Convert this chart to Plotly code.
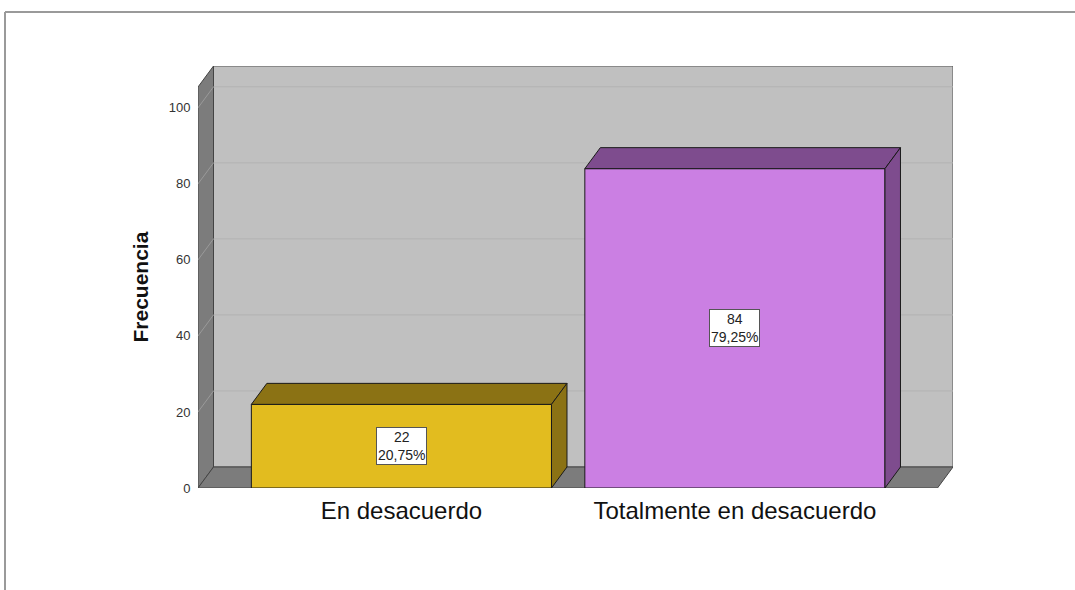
import plotly.graph_objects as go

# ---- data ----
categories = ["En desacuerdo", "Totalmente en desacuerdo"]
counts = [22, 84]
percents = ["20,75%", "79,25%"]
y_ticks = [0, 20, 40, 60, 80, 100]
y_title = "Frecuencia"

# ---- style ----
front_colors = ["#E2BC1F", "#CB7FE3"]
dark_colors = ["#8B7214", "#7E4C8E"]
W, H = 1075, 590
ML, MR, MT, MB = 198, 122, 66, 102
X_RANGE = [-0.61, 1.654]
Y_RANGE = [0, 111.0]
BAR_W = 0.9
DX = 15.5 / ((W - ML - MR) / (X_RANGE[1] - X_RANGE[0]))   # depth in x data units
DY = 21.0 / ((H - MT - MB) / (Y_RANGE[1] - Y_RANGE[0]))    # depth in y data units
WALL_TOP = Y_RANGE[1] - DY

xs = list(range(len(categories)))

fig = go.Figure()

shapes = []
xl, xr = X_RANGE
# back wall
shapes.append(dict(type="rect", xref="x", yref="y", x0=xl + DX, x1=xr, y0=DY, y1=Y_RANGE[1],
                   fillcolor="#C0C0C0", line=dict(color="#555555", width=1), layer="below"))
# left wall
shapes.append(dict(type="path", xref="x", yref="y",
                   path=f"M {xl},0 L {xl},{WALL_TOP} L {xl+DX},{Y_RANGE[1]} L {xl+DX},{DY} Z",
                   fillcolor="#7C7C7C", line=dict(color="#444444", width=1), layer="below"))
# floor
shapes.append(dict(type="path", xref="x", yref="y",
                   path=f"M {xl},0 L {xr-DX},0 L {xr},{DY} L {xl+DX},{DY} Z",
                   fillcolor="#7C7C7C", line=dict(color="#444444", width=1), layer="below"))
# gridlines on back wall and left wall
for t in y_ticks[1:]:
    shapes.append(dict(type="line", xref="x", yref="y", x0=xl + DX, x1=xr, y0=t + DY, y1=t + DY,
                       line=dict(color="#B2B2B2", width=1), layer="below"))
    shapes.append(dict(type="line", xref="x", yref="y", x0=xl, x1=xl + DX, y0=t, y1=t + DY,
                       line=dict(color="#9A9A9A", width=1), layer="below"))

# bars: 3D top and side faces
for x, v, dc in zip(xs, counts, dark_colors):
    x0, x1 = x - BAR_W / 2, x + BAR_W / 2
    shapes.append(dict(type="path", xref="x", yref="y",
                       path=f"M {x0},{v} L {x0+DX},{v+DY} L {x1+DX},{v+DY} L {x1},{v} Z",
                       fillcolor=dc, line=dict(color="#1A1A1A", width=1)))
    shapes.append(dict(type="path", xref="x", yref="y",
                       path=f"M {x1},0 L {x1+DX},{DY} L {x1+DX},{v+DY} L {x1},{v} Z",
                       fillcolor=dc, line=dict(color="#1A1A1A", width=1)))

# outer frame (top and left edges)
pw, ph = W - ML - MR, H - MT - MB
def px_to_paper_x(px):
    return (px - ML) / pw
def py_to_paper_y(py):
    return (H - MB - py) / ph
shapes.append(dict(type="line", xref="paper", yref="paper",
                   x0=px_to_paper_x(5), x1=px_to_paper_x(W + 5), y0=py_to_paper_y(12), y1=py_to_paper_y(12),
                   line=dict(color="#9A9A9A", width=2)))
shapes.append(dict(type="line", xref="paper", yref="paper",
                   x0=px_to_paper_x(5), x1=px_to_paper_x(5), y0=py_to_paper_y(12), y1=py_to_paper_y(H + 5),
                   line=dict(color="#9A9A9A", width=2)))

fig.add_trace(go.Bar(x=xs, y=counts, width=BAR_W,
                     marker=dict(color=front_colors, line=dict(color="#1A1A1A", width=1)),
                     hoverinfo="skip", showlegend=False))

annotations = []
for x, v, p in zip(xs, counts, percents):
    annotations.append(dict(x=x, y=v / 2, xref="x", yref="y", text=f"{v}<br>{p}", showarrow=False,
                            font=dict(family="Arial", size=14, color="#222222"),
                            bgcolor="white", bordercolor="#555555", borderwidth=1, borderpad=1,
                            align="center"))
annotations.append(dict(x=px_to_paper_x(140), y=(WALL_TOP / 2) / Y_RANGE[1], xref="paper", yref="paper",
                        text=f"<b>{y_title}</b>", textangle=-90, showarrow=False,
                        font=dict(family="Arial", size=21, color="#111111"),
                        xanchor="center", yanchor="middle"))

fig.update_layout(
    width=W, height=H, autosize=False,
    margin=dict(l=ML, r=MR, t=MT, b=MB),
    paper_bgcolor="white", plot_bgcolor="white",
    shapes=shapes, annotations=annotations,
    showlegend=False,
    xaxis=dict(range=X_RANGE, tickvals=xs, ticktext=categories, showgrid=False, zeroline=False,
               showline=False, ticks="outside", ticklen=1, tickcolor="rgba(0,0,0,0)",
               tickfont=dict(family="Arial", size=24, color="#111111"), fixedrange=True),
    yaxis=dict(range=Y_RANGE, tickvals=y_ticks, showgrid=False, zeroline=False, showline=False,
               ticks="outside", ticklen=4, tickcolor="rgba(0,0,0,0)",
               tickfont=dict(family="Arial", size=13, color="#333333"), fixedrange=True),
)

fig.write_html("out.html", config={"displayModeBar": False},
               post_script="document.body.style.margin='0';document.body.style.overflow='hidden';")
